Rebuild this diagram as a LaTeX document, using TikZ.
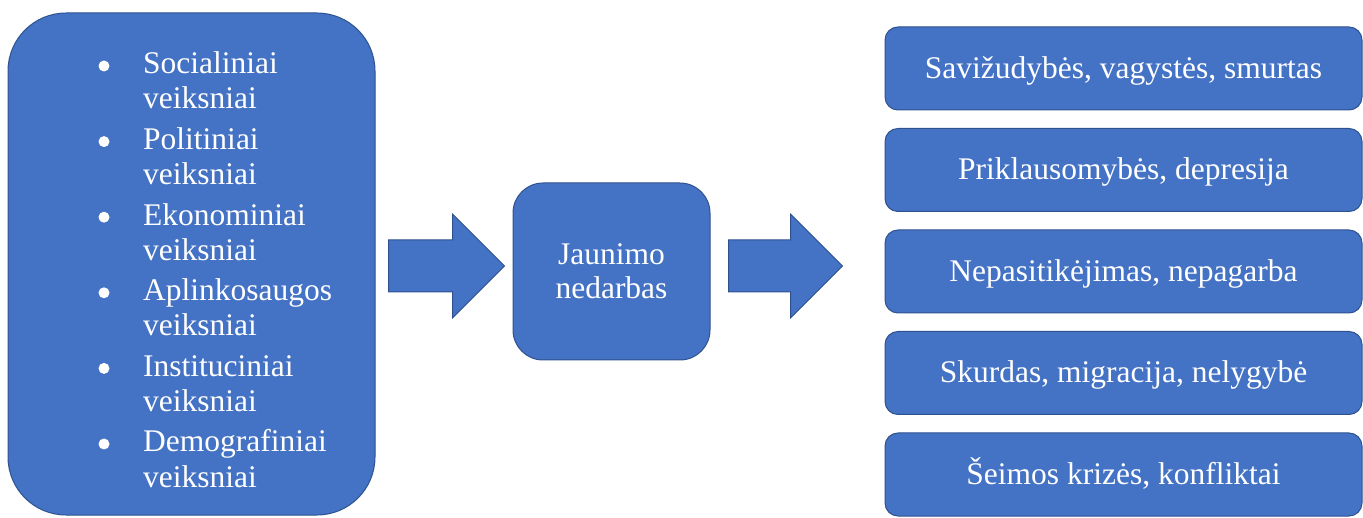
\documentclass[tikz,border=0pt]{standalone}
\usepackage{fontspec}
\setmainfont{Liberation Serif}
\usetikzlibrary{calc}
\definecolor{boxfill}{HTML}{4472C4}
\definecolor{boxline}{HTML}{2F528F}
\tikzset{
  bluebox/.style={fill=boxfill, draw=boxline, line width=1pt},
  txt/.style={text=white, font=\fontsize{31.5}{35}\selectfont, inner sep=0pt},
  bulletdot/.style={circle, fill=white, inner sep=0pt, minimum size=11pt},
  rbox/.style={bluebox, txt, rounded corners=13pt, minimum width=477pt, minimum height=83pt, text height=24pt, text depth=4pt},
  blockarrow/.style={fill=boxfill, draw=boxline, line width=1pt, line join=miter}
}
\begin{document}
\begin{tikzpicture}[x=1pt,y=1pt]
\useasboundingbox (0,0) rectangle (1363,517);
% left box
\node[bluebox, rounded corners=58pt, minimum width=367pt, minimum height=502pt] (lbox) at (191.5,253) {};
\foreach \k/\w in {0/Socialiniai,1/Politiniai,2/Ekonominiai,3/Aplinkosaugos,4/Instituciniai,5/Demografiniai}{
  \node[txt, anchor=base west] (item\k) at (143,{443-75.6*\k}) {\w};
  \node[txt, anchor=base west] (itemb\k) at (143,{408-75.6*\k}) {veiksniai};
  \node[bulletdot] (bul\k) at (104,{451-75.6*\k}) {};
}
% middle box
\node[bluebox, txt, rounded corners=30pt, minimum width=197pt, minimum height=177pt, align=center, font=\fontsize{31.5}{34}\selectfont] (mid) at (611.5,245.5) {Jaunimo\\nedarbas};
% right boxes
\node[rbox] (r1) at (1123.5,448.5) {Savižudybės, vagystės, smurtas};
\node[rbox] (r2) at (1123.5,347) {Priklausomybės, depresija};
\node[rbox] (r3) at (1123.5,245.5) {Nepasitikėjimas, nepagarba};
\node[rbox] (r4) at (1123.5,144) {Skurdas, migracija, nelygybė};
\node[rbox] (r5) at (1123.5,42.5) {Šeimos krizės, konfliktai};
% arrows
\coordinate (a1s) at ($(lbox.east)+(13,-2)$);
\coordinate (a1e) at ($(mid.west)+(-8,5.5)$);
\coordinate (a2s) at ($(mid.east)+(18,5.5)$);
\coordinate (a2e) at ($(r3.west)+(-42,5.5)$);
\path[blockarrow] ($(a1s)+(0,26)$) -- ($(a1e)+(-52,26)$) -- ($(a1e)+(-52,52)$) -- (a1e) -- ($(a1e)+(-52,-52)$) -- ($(a1e)+(-52,-26)$) -- ($(a1s)+(0,-26)$) -- cycle;
\path[blockarrow] ($(a2s)+(0,26)$) -- ($(a2e)+(-52,26)$) -- ($(a2e)+(-52,52)$) -- (a2e) -- ($(a2e)+(-52,-52)$) -- ($(a2e)+(-52,-26)$) -- ($(a2s)+(0,-26)$) -- cycle;
\end{tikzpicture}
\end{document}
